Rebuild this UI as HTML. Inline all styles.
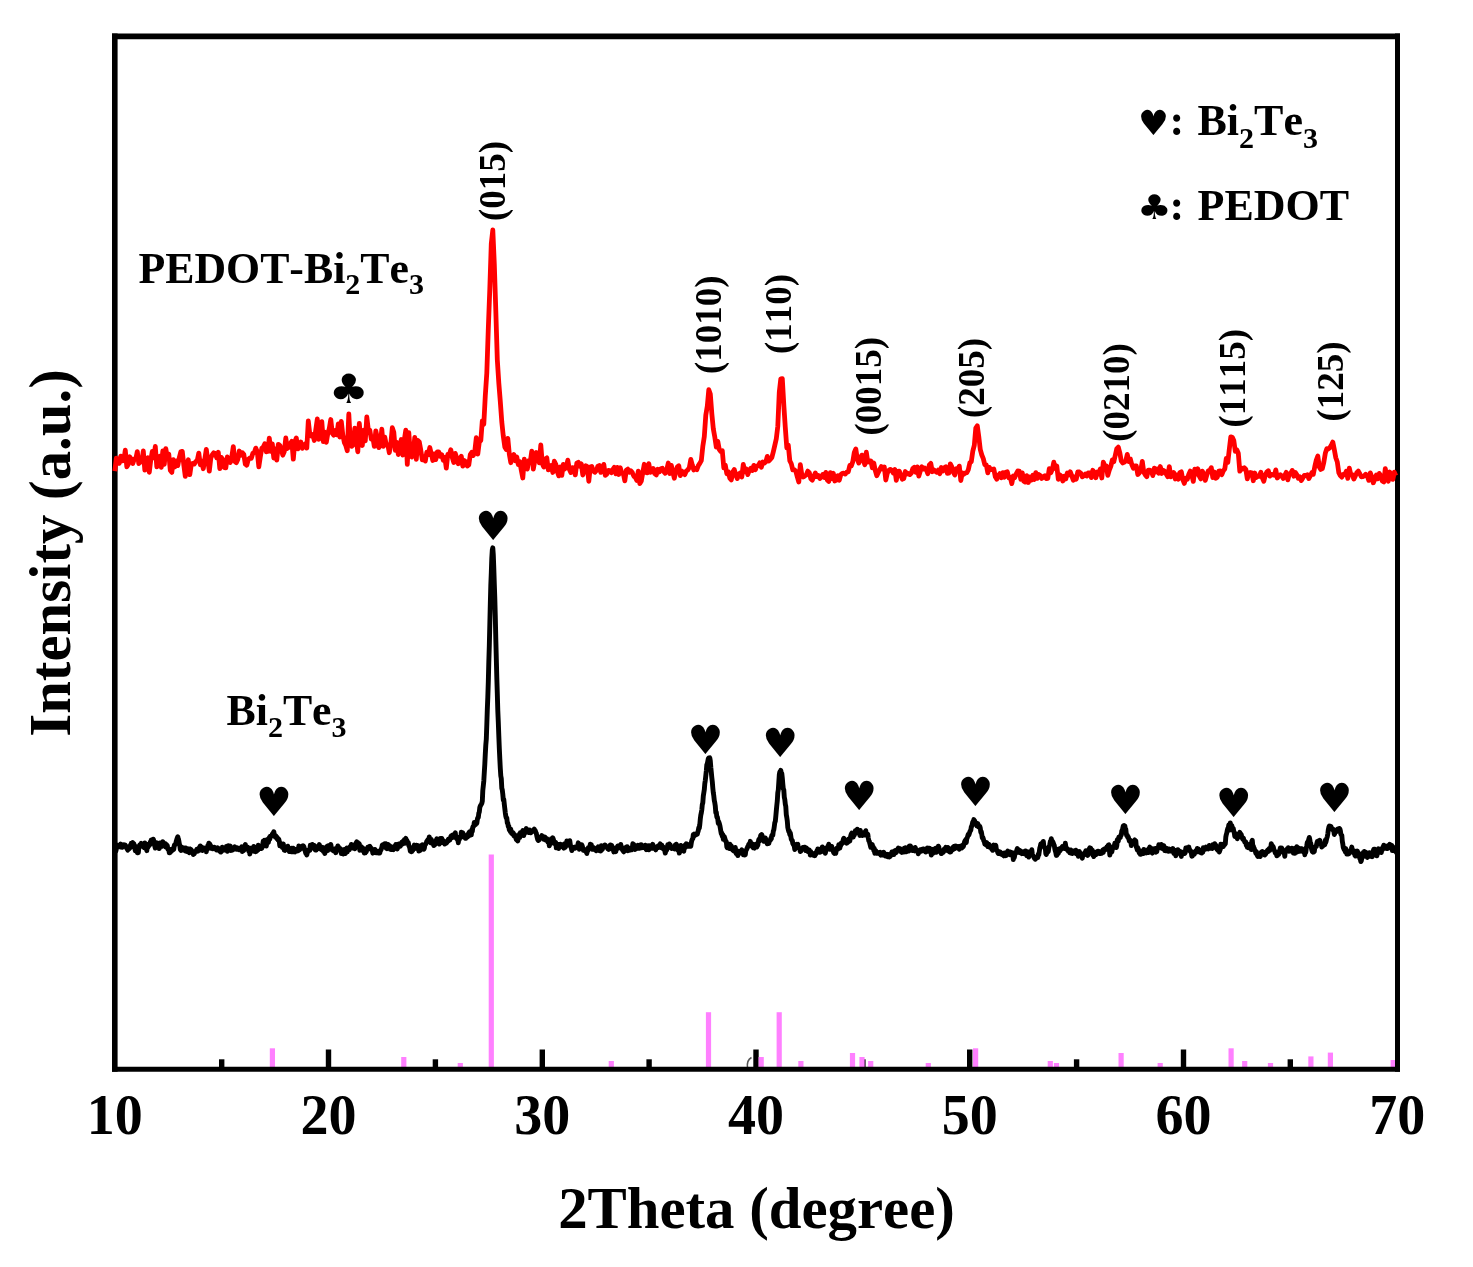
<!DOCTYPE html>
<html><head><meta charset="utf-8"><title>XRD patterns</title>
<style>
html,body{margin:0;padding:0;background:#fff;}
svg{display:block;}
text{font-family:"Liberation Serif",serif;font-weight:bold;fill:#000;font-kerning:none;}
.sym{font-family:"DejaVu Sans",sans-serif;font-weight:normal;}
</style></head><body>
<svg width="1473" height="1267" viewBox="0 0 1473 1267">
<rect x="0" y="0" width="1473" height="1267" fill="#fff"/>

<g stroke="#000" stroke-width="5.4" fill="none">
<line x1="221.7" y1="1059.3" x2="221.7" y2="1068"/>
<line x1="328.5" y1="1049.5" x2="328.5" y2="1068"/>
<line x1="435.4" y1="1059.3" x2="435.4" y2="1068"/>
<line x1="542.3" y1="1049.5" x2="542.3" y2="1068"/>
<line x1="649.1" y1="1059.3" x2="649.1" y2="1068"/>
<line x1="756.0" y1="1049.5" x2="756.0" y2="1068"/>
<line x1="862.9" y1="1059.3" x2="862.9" y2="1068"/>
<line x1="969.7" y1="1049.5" x2="969.7" y2="1068"/>
<line x1="1076.6" y1="1059.3" x2="1076.6" y2="1068"/>
<line x1="1183.5" y1="1049.5" x2="1183.5" y2="1068"/>
<line x1="1290.3" y1="1059.3" x2="1290.3" y2="1068"/>
</g>
<g stroke="#ff80ff" stroke-width="5.2" fill="none">
<line x1="272.4" y1="1048.3" x2="272.4" y2="1068"/>
<line x1="403.8" y1="1057" x2="403.8" y2="1068"/>
<line x1="460.3" y1="1063" x2="460.3" y2="1068"/>
<line x1="491.3" y1="854.6" x2="491.3" y2="1068"/>
<line x1="611.3" y1="1061" x2="611.3" y2="1068"/>
<line x1="708.5" y1="1012.2" x2="708.5" y2="1068"/>
<line x1="761.2" y1="1057" x2="761.2" y2="1068"/>
<line x1="779.2" y1="1012.2" x2="779.2" y2="1068"/>
<line x1="800.9" y1="1061" x2="800.9" y2="1068"/>
<line x1="852.5" y1="1053" x2="852.5" y2="1068"/>
<line x1="862" y1="1057" x2="862" y2="1068"/>
<line x1="870.7" y1="1061" x2="870.7" y2="1068"/>
<line x1="928.3" y1="1063" x2="928.3" y2="1068"/>
<line x1="975.6" y1="1048.3" x2="975.6" y2="1068"/>
<line x1="1050.3" y1="1061" x2="1050.3" y2="1068"/>
<line x1="1056.5" y1="1063" x2="1056.5" y2="1068"/>
<line x1="1121.1" y1="1053" x2="1121.1" y2="1068"/>
<line x1="1160.2" y1="1063" x2="1160.2" y2="1068"/>
<line x1="1231.1" y1="1048.3" x2="1231.1" y2="1068"/>
<line x1="1244.7" y1="1061" x2="1244.7" y2="1068"/>
<line x1="1270.5" y1="1063" x2="1270.5" y2="1068"/>
<line x1="1310.9" y1="1056.4" x2="1310.9" y2="1068"/>
<line x1="1330.4" y1="1052.6" x2="1330.4" y2="1068"/>
<line x1="1393.2" y1="1060" x2="1393.2" y2="1068"/>
</g>
<path d="M751.5,1057.5 Q746.5,1060 747.5,1068" fill="none" stroke="#555" stroke-width="1.6"/>
<g stroke="#000" fill="none" stroke-linecap="butt">
<line x1="114.8" y1="33.6" x2="114.8" y2="1071.7" stroke-width="5.6"/>
<line x1="112" y1="36.4" x2="1400" y2="36.4" stroke-width="5.6"/>
<line x1="1397.5" y1="33.6" x2="1397.5" y2="1071.7" stroke-width="5"/>
<line x1="112" y1="1069.2" x2="1400" y2="1069.2" stroke-width="5"/>
</g>
<path d="M114.8,471.1 L116.3,458.2 L117.8,461.1 L119.3,463.3 L120.8,456.1 L122.3,460.8 L123.8,460.7 L125.3,450.1 L126.8,466.8 L128.3,464.2 L129.8,456.8 L131.3,459.5 L132.8,463.5 L134.3,458.9 L135.8,458.9 L137.3,451.6 L138.8,463.7 L140.3,461.0 L141.8,461.9 L143.3,451.0 L144.8,470.1 L146.3,461.0 L147.8,457.7 L149.3,472.3 L150.8,459.8 L152.3,451.4 L153.8,457.8 L155.3,446.5 L156.8,466.9 L158.3,458.1 L159.8,456.2 L161.3,467.4 L162.8,450.9 L164.3,464.3 L165.8,448.6 L167.3,457.3 L168.8,454.1 L170.3,470.4 L171.8,472.4 L173.3,459.7 L174.8,467.0 L176.3,460.9 L177.8,465.6 L179.3,457.6 L180.8,451.9 L182.3,451.4 L183.8,464.9 L185.3,476.4 L186.8,464.4 L188.3,459.7 L189.8,474.7 L191.3,464.3 L192.8,463.3 L194.3,464.0 L195.8,461.5 L197.3,460.2 L198.8,453.1 L200.3,464.8 L201.8,461.0 L203.3,468.7 L204.8,459.0 L206.3,449.3 L207.8,460.3 L209.3,471.1 L210.8,458.1 L212.3,454.8 L213.8,452.8 L215.3,453.5 L216.8,457.9 L218.3,452.3 L219.8,468.6 L221.3,457.4 L222.8,459.6 L224.3,467.6 L225.8,467.8 L227.3,457.0 L228.8,460.2 L230.3,462.5 L231.8,456.6 L233.3,446.6 L234.8,461.4 L236.3,462.7 L237.8,459.5 L239.3,451.0 L240.8,455.3 L242.3,452.7 L243.8,454.3 L245.3,464.1 L246.8,465.2 L248.3,459.3 L249.8,458.0 L251.3,458.4 L252.8,453.4 L254.3,452.5 L255.8,448.1 L257.3,451.7 L258.8,466.8 L260.3,457.0 L261.8,448.3 L263.3,446.9 L264.8,443.7 L266.3,451.8 L267.8,451.4 L269.3,438.1 L270.8,451.4 L272.3,443.8 L273.8,458.0 L275.3,448.9 L276.8,460.1 L278.3,444.3 L279.8,445.4 L281.3,449.6 L282.8,455.2 L284.3,451.5 L285.8,438.0 L287.3,448.5 L288.8,447.2 L290.3,443.6 L291.8,441.3 L293.3,459.2 L294.8,442.1 L296.3,437.9 L297.8,448.9 L299.3,444.3 L300.8,442.1 L302.3,448.3 L303.8,445.4 L305.3,443.8 L306.8,448.1 L308.3,421.0 L309.8,434.0 L311.3,435.9 L312.8,434.5 L314.3,440.5 L315.8,429.6 L317.3,419.0 L318.8,439.3 L320.3,427.0 L321.8,421.6 L323.3,441.5 L324.8,432.2 L326.3,442.4 L327.8,433.6 L329.3,428.4 L330.8,419.5 L332.3,433.3 L333.8,435.2 L335.3,430.4 L336.8,434.8 L338.3,423.9 L339.8,437.0 L341.3,421.4 L342.8,434.9 L344.3,442.4 L345.8,445.6 L347.3,450.7 L348.8,414.0 L350.3,442.5 L351.8,446.3 L353.3,444.4 L354.8,428.1 L356.3,439.5 L357.8,451.8 L359.3,423.3 L360.8,440.1 L362.3,445.5 L363.8,430.1 L365.3,440.9 L366.8,417.0 L368.3,429.8 L369.8,430.1 L371.3,439.1 L372.8,437.1 L374.3,446.4 L375.8,430.8 L377.3,438.0 L378.8,447.7 L380.3,444.7 L381.8,429.2 L383.3,446.4 L384.8,437.2 L386.3,444.9 L387.8,444.6 L389.3,452.7 L390.8,443.9 L392.3,427.7 L393.8,432.2 L395.3,450.3 L396.8,442.3 L398.3,454.5 L399.8,447.6 L401.3,439.5 L402.8,455.1 L404.3,439.9 L405.8,430.1 L407.3,464.4 L408.8,432.6 L410.3,453.9 L411.8,457.0 L413.3,451.2 L414.8,437.3 L416.3,459.3 L417.8,440.5 L419.3,442.0 L420.8,450.3 L422.3,459.8 L423.8,456.6 L425.3,461.1 L426.8,452.2 L428.3,454.7 L429.8,447.5 L431.3,453.7 L432.8,460.5 L434.3,453.9 L435.8,459.6 L437.3,452.0 L438.8,451.9 L440.3,456.4 L441.8,454.8 L443.3,460.3 L444.8,457.4 L446.3,468.2 L447.8,454.5 L449.3,454.9 L450.8,449.8 L452.3,457.6 L453.8,462.5 L455.3,453.4 L456.8,458.4 L458.3,463.8 L459.8,458.6 L461.3,456.3 L462.8,466.2 L464.3,460.5 L465.8,461.8 L467.3,466.0 L468.8,464.9 L470.3,454.5 L471.8,452.2 L473.3,455.6 L474.8,451.1 L476.3,437.7 L477.8,454.0 L479.3,442.0 L480.8,440.6 L482.3,420.9 L483.8,424.2 L485.3,395.6 L486.8,373.1 L488.3,328.8 L489.8,289.1 L491.3,243.4 L492.8,229.9 L494.3,263.8 L495.8,310.5 L497.3,359.6 L498.8,382.8 L500.3,401.5 L501.8,422.1 L503.3,436.2 L504.8,447.0 L506.3,449.6 L507.8,438.3 L509.3,454.0 L510.8,462.7 L512.3,456.4 L513.8,454.6 L515.3,460.7 L516.8,457.0 L518.3,464.6 L519.8,461.6 L521.3,470.4 L522.8,478.0 L524.3,459.1 L525.8,466.9 L527.3,469.0 L528.8,460.6 L530.3,461.5 L531.8,451.2 L533.3,469.0 L534.8,460.8 L536.3,452.5 L537.8,454.4 L539.3,462.8 L540.8,445.0 L542.3,463.8 L543.8,467.0 L545.3,458.9 L546.8,457.9 L548.3,469.9 L549.8,468.0 L551.3,465.5 L552.8,472.5 L554.3,461.2 L555.8,464.2 L557.3,471.7 L558.8,475.9 L560.3,467.0 L561.8,475.4 L563.3,464.3 L564.8,469.0 L566.3,466.8 L567.8,460.2 L569.3,469.2 L570.8,472.5 L572.3,467.6 L573.8,468.1 L575.3,474.9 L576.8,463.1 L578.3,462.3 L579.8,466.2 L581.3,463.9 L582.8,475.0 L584.3,470.6 L585.8,465.7 L587.3,466.8 L588.8,481.3 L590.3,467.1 L591.8,466.5 L593.3,470.9 L594.8,472.3 L596.3,470.7 L597.8,466.4 L599.3,465.5 L600.8,472.4 L602.3,470.2 L603.8,464.4 L605.3,475.3 L606.8,474.1 L608.3,470.4 L609.8,470.6 L611.3,472.7 L612.8,469.5 L614.3,467.2 L615.8,473.8 L617.3,467.4 L618.8,474.5 L620.3,467.8 L621.8,473.2 L623.3,473.3 L624.8,480.8 L626.3,470.2 L627.8,469.1 L629.3,472.3 L630.8,470.7 L632.3,472.6 L633.8,476.2 L635.3,477.3 L636.8,480.4 L638.3,471.1 L639.8,483.7 L641.3,481.0 L642.8,472.5 L644.3,464.3 L645.8,472.5 L647.3,472.8 L648.8,463.6 L650.3,472.4 L651.8,471.1 L653.3,468.6 L654.8,473.7 L656.3,474.9 L657.8,469.2 L659.3,472.0 L660.8,468.7 L662.3,468.2 L663.8,471.6 L665.3,473.3 L666.8,469.2 L668.3,463.0 L669.8,473.6 L671.3,465.4 L672.8,471.9 L674.3,478.2 L675.8,471.4 L677.3,466.9 L678.8,465.8 L680.3,475.7 L681.8,471.1 L683.3,473.1 L684.8,474.6 L686.3,471.0 L687.8,470.0 L689.3,467.6 L690.8,459.4 L692.3,465.0 L693.8,470.0 L695.3,468.8 L696.8,469.7 L698.3,465.6 L699.8,463.4 L701.3,460.7 L702.8,446.4 L704.3,436.6 L705.8,415.2 L707.3,406.2 L708.8,389.7 L710.3,394.0 L711.8,413.4 L713.3,428.8 L714.8,437.1 L716.3,447.2 L717.8,441.4 L719.3,449.6 L720.8,451.6 L722.3,450.7 L723.8,467.9 L725.3,465.1 L726.8,473.7 L728.3,471.7 L729.8,478.2 L731.3,479.9 L732.8,472.1 L734.3,469.6 L735.8,475.0 L737.3,478.6 L738.8,474.0 L740.3,472.9 L741.8,476.9 L743.3,464.4 L744.8,471.9 L746.3,468.8 L747.8,474.6 L749.3,470.2 L750.8,468.3 L752.3,470.5 L753.8,465.4 L755.3,469.8 L756.8,466.0 L758.3,465.7 L759.8,462.8 L761.3,467.3 L762.8,462.0 L764.3,463.1 L765.8,461.9 L767.3,456.4 L768.8,461.0 L770.3,459.3 L771.8,457.7 L773.3,451.8 L774.8,445.4 L776.3,438.7 L777.8,426.2 L779.3,391.9 L780.8,378.8 L782.3,378.6 L783.8,404.9 L785.3,427.5 L786.8,447.9 L788.3,445.2 L789.8,460.7 L791.3,463.8 L792.8,469.9 L794.3,469.6 L795.8,471.1 L797.3,476.9 L798.8,482.0 L800.3,464.7 L801.8,474.5 L803.3,477.0 L804.8,476.0 L806.3,474.8 L807.8,471.1 L809.3,472.6 L810.8,478.8 L812.3,480.1 L813.8,476.4 L815.3,473.0 L816.8,476.6 L818.3,475.5 L819.8,478.5 L821.3,477.0 L822.8,474.4 L824.3,477.5 L825.8,472.4 L827.3,480.0 L828.8,481.4 L830.3,472.6 L831.8,478.6 L833.3,473.3 L834.8,481.0 L836.3,480.2 L837.8,475.8 L839.3,480.2 L840.8,474.6 L842.3,473.4 L843.8,473.2 L845.3,474.1 L846.8,472.1 L848.3,471.8 L849.8,465.5 L851.3,465.9 L852.8,461.6 L854.3,452.4 L855.8,448.9 L857.3,459.2 L858.8,463.0 L860.3,459.3 L861.8,455.1 L863.3,460.3 L864.8,464.7 L866.3,452.2 L867.8,462.1 L869.3,460.8 L870.8,460.8 L872.3,467.8 L873.8,463.0 L875.3,470.6 L876.8,475.7 L878.3,472.5 L879.8,469.4 L881.3,466.6 L882.8,468.9 L884.3,467.0 L885.8,480.0 L887.3,473.2 L888.8,470.3 L890.3,469.4 L891.8,470.3 L893.3,473.0 L894.8,469.4 L896.3,480.4 L897.8,471.3 L899.3,471.1 L900.8,475.2 L902.3,479.2 L903.8,478.5 L905.3,471.5 L906.8,474.0 L908.3,473.4 L909.8,474.6 L911.3,473.3 L912.8,468.6 L914.3,467.2 L915.8,472.2 L917.3,466.9 L918.8,476.2 L920.3,471.0 L921.8,466.7 L923.3,469.1 L924.8,468.1 L926.3,469.6 L927.8,473.7 L929.3,464.9 L930.8,463.4 L932.3,471.7 L933.8,469.8 L935.3,471.2 L936.8,472.3 L938.3,470.0 L939.8,473.7 L941.3,467.5 L942.8,471.1 L944.3,467.8 L945.8,466.8 L947.3,473.3 L948.8,473.1 L950.3,463.8 L951.8,466.9 L953.3,472.1 L954.8,475.0 L956.3,468.7 L957.8,470.6 L959.3,466.1 L960.8,480.6 L962.3,472.9 L963.8,474.2 L965.3,472.8 L966.8,472.8 L968.3,469.7 L969.8,462.9 L971.3,461.6 L972.8,451.2 L974.3,445.4 L975.8,428.0 L977.3,425.7 L978.8,436.7 L980.3,449.7 L981.8,455.0 L983.3,458.6 L984.8,464.8 L986.3,464.9 L987.8,472.9 L989.3,467.4 L990.8,469.6 L992.3,469.4 L993.8,469.0 L995.3,476.8 L996.8,479.2 L998.3,475.6 L999.8,473.6 L1001.3,477.8 L1002.8,472.6 L1004.3,477.2 L1005.8,472.2 L1007.3,471.7 L1008.8,477.8 L1010.3,477.4 L1011.8,483.6 L1013.3,476.0 L1014.8,477.5 L1016.3,473.6 L1017.8,471.0 L1019.3,471.1 L1020.8,479.2 L1022.3,472.9 L1023.8,481.2 L1025.3,482.1 L1026.8,475.6 L1028.3,482.5 L1029.8,477.0 L1031.3,480.2 L1032.8,475.2 L1034.3,479.6 L1035.8,472.6 L1037.3,478.4 L1038.8,474.5 L1040.3,475.7 L1041.8,478.5 L1043.3,476.8 L1044.8,475.8 L1046.3,478.6 L1047.8,478.3 L1049.3,468.7 L1050.8,472.8 L1052.3,469.4 L1053.8,462.2 L1055.3,468.5 L1056.8,466.1 L1058.3,479.3 L1059.8,474.8 L1061.3,476.0 L1062.8,481.0 L1064.3,476.2 L1065.8,479.0 L1067.3,473.0 L1068.8,474.9 L1070.3,471.8 L1071.8,475.9 L1073.3,480.2 L1074.8,476.9 L1076.3,479.1 L1077.8,471.8 L1079.3,472.0 L1080.8,473.2 L1082.3,476.8 L1083.8,475.7 L1085.3,474.0 L1086.8,476.0 L1088.3,472.9 L1089.8,473.0 L1091.3,477.6 L1092.8,470.3 L1094.3,472.8 L1095.8,477.8 L1097.3,472.0 L1098.8,474.0 L1100.3,468.9 L1101.8,478.0 L1103.3,462.2 L1104.8,465.9 L1106.3,466.0 L1107.8,475.4 L1109.3,470.1 L1110.8,466.4 L1112.3,460.0 L1113.8,461.7 L1115.3,455.2 L1116.8,448.6 L1118.3,447.1 L1119.8,452.8 L1121.3,461.1 L1122.8,463.0 L1124.3,462.2 L1125.8,460.8 L1127.3,454.4 L1128.8,461.5 L1130.3,458.9 L1131.8,464.6 L1133.3,468.2 L1134.8,465.8 L1136.3,466.0 L1137.8,474.5 L1139.3,473.0 L1140.8,469.9 L1142.3,461.4 L1143.8,472.3 L1145.3,474.9 L1146.8,476.7 L1148.3,470.1 L1149.8,470.2 L1151.3,470.9 L1152.8,475.6 L1154.3,468.1 L1155.8,472.0 L1157.3,468.9 L1158.8,473.3 L1160.3,466.5 L1161.8,473.5 L1163.3,470.3 L1164.8,471.2 L1166.3,474.2 L1167.8,476.7 L1169.3,466.6 L1170.8,476.8 L1172.3,475.4 L1173.8,472.6 L1175.3,479.0 L1176.8,474.9 L1178.3,479.2 L1179.8,472.6 L1181.3,471.8 L1182.8,479.7 L1184.3,483.4 L1185.8,478.1 L1187.3,479.3 L1188.8,474.3 L1190.3,471.1 L1191.8,475.1 L1193.3,481.4 L1194.8,469.1 L1196.3,474.1 L1197.8,468.8 L1199.3,476.2 L1200.8,478.9 L1202.3,471.2 L1203.8,474.1 L1205.3,480.4 L1206.8,475.1 L1208.3,470.8 L1209.8,470.4 L1211.3,467.7 L1212.8,477.7 L1214.3,472.0 L1215.8,478.2 L1217.3,477.2 L1218.8,471.1 L1220.3,470.9 L1221.8,474.7 L1223.3,470.8 L1224.8,468.9 L1226.3,458.3 L1227.8,462.4 L1229.3,449.3 L1230.8,436.9 L1232.3,437.3 L1233.8,440.5 L1235.3,451.4 L1236.8,449.7 L1238.3,453.1 L1239.8,471.2 L1241.3,467.9 L1242.8,469.0 L1244.3,467.8 L1245.8,469.2 L1247.3,478.9 L1248.8,473.1 L1250.3,472.5 L1251.8,472.9 L1253.3,480.7 L1254.8,473.0 L1256.3,477.5 L1257.8,476.3 L1259.3,476.3 L1260.8,472.2 L1262.3,477.8 L1263.8,481.3 L1265.3,475.2 L1266.8,472.1 L1268.3,470.7 L1269.8,476.1 L1271.3,474.4 L1272.8,474.9 L1274.3,475.3 L1275.8,469.9 L1277.3,478.0 L1278.8,476.0 L1280.3,474.8 L1281.8,475.9 L1283.3,478.4 L1284.8,475.4 L1286.3,472.3 L1287.8,479.8 L1289.3,474.1 L1290.8,473.2 L1292.3,470.4 L1293.8,476.2 L1295.3,472.5 L1296.8,474.6 L1298.3,478.3 L1299.8,476.9 L1301.3,480.6 L1302.8,478.1 L1304.3,475.4 L1305.8,475.6 L1307.3,474.7 L1308.8,478.6 L1310.3,475.8 L1311.8,472.7 L1313.3,474.2 L1314.8,466.6 L1316.3,460.1 L1317.8,456.1 L1319.3,466.9 L1320.8,469.4 L1322.3,468.7 L1323.8,462.4 L1325.3,453.3 L1326.8,448.7 L1328.3,449.0 L1329.8,447.8 L1331.3,445.2 L1332.8,442.1 L1334.3,449.5 L1335.8,457.8 L1337.3,462.0 L1338.8,472.7 L1340.3,475.6 L1341.8,477.1 L1343.3,474.3 L1344.8,474.5 L1346.3,471.3 L1347.8,478.4 L1349.3,468.1 L1350.8,474.5 L1352.3,474.7 L1353.8,479.1 L1355.3,476.1 L1356.8,472.7 L1358.3,471.1 L1359.8,473.7 L1361.3,476.8 L1362.8,476.7 L1364.3,475.9 L1365.8,474.2 L1367.3,476.0 L1368.8,480.4 L1370.3,472.9 L1371.8,477.0 L1373.3,482.8 L1374.8,479.0 L1376.3,475.1 L1377.8,478.8 L1379.3,473.4 L1380.8,475.8 L1382.3,481.0 L1383.8,481.9 L1385.3,468.6 L1386.8,477.0 L1388.3,481.2 L1389.8,472.0 L1391.3,474.9 L1392.8,479.4 L1394.3,472.2 L1395.8,475.6" fill="none" stroke="#ff0000" stroke-width="4.8" stroke-linejoin="round" stroke-linecap="butt"/>
<path d="M114.8,851.6 L115.3,851.4 L115.8,851.2 L116.3,849.1 L116.8,845.8 L117.3,845.3 L117.8,846.4 L118.3,845.3 L118.8,845.9 L119.3,845.4 L119.8,846.0 L120.3,847.0 L120.8,844.1 L121.3,845.8 L121.8,845.3 L122.3,847.3 L122.8,845.0 L123.3,845.9 L123.8,844.7 L124.3,845.4 L124.8,846.0 L125.3,845.2 L125.8,846.1 L126.3,846.9 L126.8,848.7 L127.3,848.8 L127.8,850.1 L128.3,849.0 L128.8,847.8 L129.3,848.6 L129.8,848.2 L130.3,845.3 L130.8,847.3 L131.3,843.3 L131.8,844.5 L132.3,844.5 L132.8,842.6 L133.3,845.3 L133.8,843.5 L134.3,846.1 L134.8,848.3 L135.3,850.7 L135.8,849.4 L136.3,846.6 L136.8,849.5 L137.3,852.7 L137.8,850.8 L138.3,852.7 L138.8,848.2 L139.3,847.2 L139.8,844.7 L140.3,844.5 L140.8,846.1 L141.3,843.3 L141.8,845.9 L142.3,845.9 L142.8,846.6 L143.3,845.2 L143.8,845.5 L144.3,847.8 L144.8,843.0 L145.3,846.2 L145.8,847.7 L146.3,847.6 L146.8,850.7 L147.3,844.5 L147.8,847.5 L148.3,845.7 L148.8,846.0 L149.3,845.4 L149.8,844.8 L150.3,841.9 L150.8,843.6 L151.3,839.9 L151.8,843.1 L152.3,841.4 L152.8,839.3 L153.3,839.2 L153.8,841.0 L154.3,843.9 L154.8,846.1 L155.3,848.1 L155.8,847.4 L156.3,844.3 L156.8,842.8 L157.3,845.2 L157.8,843.5 L158.3,845.1 L158.8,844.4 L159.3,848.6 L159.8,842.9 L160.3,844.9 L160.8,846.4 L161.3,843.3 L161.8,842.7 L162.3,846.3 L162.8,841.8 L163.3,842.7 L163.8,843.7 L164.3,845.6 L164.8,845.3 L165.3,843.7 L165.8,847.1 L166.3,844.4 L166.8,845.2 L167.3,845.5 L167.8,849.2 L168.3,849.2 L168.8,849.4 L169.3,852.9 L169.8,852.6 L170.3,852.3 L170.8,849.5 L171.3,850.2 L171.8,850.7 L172.3,849.6 L172.8,848.7 L173.3,848.8 L173.8,849.3 L174.3,845.2 L174.8,845.3 L175.3,844.2 L175.8,843.5 L176.3,841.1 L176.8,839.3 L177.3,838.0 L177.8,836.7 L178.3,839.0 L178.8,840.7 L179.3,843.7 L179.8,845.6 L180.3,849.5 L180.8,850.3 L181.3,848.9 L181.8,848.1 L182.3,847.4 L182.8,850.1 L183.3,848.9 L183.8,848.6 L184.3,848.2 L184.8,849.7 L185.3,850.9 L185.8,847.9 L186.3,850.9 L186.8,849.7 L187.3,851.5 L187.8,850.1 L188.3,848.9 L188.8,851.3 L189.3,852.7 L189.8,848.9 L190.3,849.9 L190.8,849.3 L191.3,851.3 L191.8,850.6 L192.3,851.3 L192.8,853.0 L193.3,854.5 L193.8,852.7 L194.3,853.7 L194.8,852.1 L195.3,852.1 L195.8,851.0 L196.3,850.8 L196.8,849.3 L197.3,849.4 L197.8,851.2 L198.3,850.3 L198.8,850.1 L199.3,847.6 L199.8,850.2 L200.3,845.9 L200.8,848.0 L201.3,849.0 L201.8,847.1 L202.3,850.5 L202.8,850.1 L203.3,848.5 L203.8,849.9 L204.3,848.1 L204.8,849.2 L205.3,850.3 L205.8,848.9 L206.3,851.9 L206.8,849.1 L207.3,849.2 L207.8,845.5 L208.3,845.3 L208.8,843.2 L209.3,843.9 L209.8,843.9 L210.3,845.5 L210.8,848.2 L211.3,846.4 L211.8,846.9 L212.3,847.7 L212.8,848.8 L213.3,847.9 L213.8,847.5 L214.3,847.2 L214.8,848.4 L215.3,849.1 L215.8,848.1 L216.3,848.7 L216.8,850.0 L217.3,848.8 L217.8,847.9 L218.3,849.5 L218.8,849.7 L219.3,850.3 L219.8,851.2 L220.3,850.7 L220.8,852.1 L221.3,851.7 L221.8,850.9 L222.3,847.3 L222.8,848.4 L223.3,848.5 L223.8,848.5 L224.3,848.4 L224.8,850.1 L225.3,848.2 L225.8,848.7 L226.3,846.6 L226.8,849.6 L227.3,851.3 L227.8,850.4 L228.3,845.8 L228.8,848.4 L229.3,849.4 L229.8,847.7 L230.3,846.0 L230.8,850.6 L231.3,848.3 L231.8,847.9 L232.3,850.2 L232.8,848.2 L233.3,848.2 L233.8,849.3 L234.3,847.6 L234.8,846.8 L235.3,848.9 L235.8,847.7 L236.3,849.2 L236.8,849.2 L237.3,847.8 L237.8,848.9 L238.3,849.0 L238.8,849.8 L239.3,849.7 L239.8,849.6 L240.3,849.4 L240.8,847.7 L241.3,850.1 L241.8,846.8 L242.3,851.5 L242.8,848.2 L243.3,849.5 L243.8,850.3 L244.3,847.3 L244.8,845.3 L245.3,844.6 L245.8,846.7 L246.3,846.8 L246.8,847.8 L247.3,847.6 L247.8,847.4 L248.3,849.6 L248.8,851.3 L249.3,848.4 L249.8,854.1 L250.3,848.3 L250.8,850.1 L251.3,850.6 L251.8,849.0 L252.3,848.0 L252.8,848.3 L253.3,850.4 L253.8,846.4 L254.3,851.4 L254.8,851.1 L255.3,850.8 L255.8,851.7 L256.3,851.2 L256.8,850.9 L257.3,848.7 L257.8,850.2 L258.3,845.3 L258.8,846.7 L259.3,846.3 L259.8,848.1 L260.3,847.3 L260.8,848.4 L261.3,846.4 L261.8,848.4 L262.3,846.7 L262.8,843.9 L263.3,841.0 L263.8,841.0 L264.3,840.4 L264.8,844.1 L265.3,843.8 L265.8,841.5 L266.3,846.0 L266.8,843.3 L267.3,839.5 L267.8,842.7 L268.3,842.4 L268.8,840.0 L269.3,837.6 L269.8,839.1 L270.3,836.1 L270.8,836.2 L271.3,836.4 L271.8,835.7 L272.3,834.3 L272.8,833.4 L273.3,835.7 L273.8,831.7 L274.3,835.2 L274.8,835.8 L275.3,837.0 L275.8,835.7 L276.3,836.5 L276.8,838.5 L277.3,837.5 L277.8,839.6 L278.3,840.3 L278.8,839.3 L279.3,841.4 L279.8,845.8 L280.3,845.4 L280.8,843.4 L281.3,845.9 L281.8,846.0 L282.3,847.5 L282.8,847.3 L283.3,843.9 L283.8,848.0 L284.3,850.2 L284.8,850.5 L285.3,847.7 L285.8,847.2 L286.3,849.0 L286.8,847.3 L287.3,847.8 L287.8,846.2 L288.3,849.1 L288.8,850.3 L289.3,851.4 L289.8,849.5 L290.3,848.9 L290.8,849.4 L291.3,851.7 L291.8,848.1 L292.3,850.8 L292.8,851.8 L293.3,848.1 L293.8,849.1 L294.3,851.6 L294.8,851.9 L295.3,849.5 L295.8,850.0 L296.3,850.6 L296.8,850.2 L297.3,850.8 L297.8,850.1 L298.3,850.6 L298.8,845.9 L299.3,849.9 L299.8,849.6 L300.3,847.9 L300.8,848.0 L301.3,848.3 L301.8,847.0 L302.3,846.1 L302.8,846.8 L303.3,845.9 L303.8,846.5 L304.3,848.3 L304.8,849.4 L305.3,851.6 L305.8,853.3 L306.3,853.5 L306.8,855.0 L307.3,852.8 L307.8,851.5 L308.3,850.8 L308.8,849.7 L309.3,849.5 L309.8,850.4 L310.3,845.2 L310.8,846.9 L311.3,845.9 L311.8,846.7 L312.3,844.5 L312.8,845.7 L313.3,845.3 L313.8,847.9 L314.3,845.3 L314.8,849.4 L315.3,850.0 L315.8,847.1 L316.3,850.0 L316.8,846.9 L317.3,848.9 L317.8,846.4 L318.3,846.7 L318.8,846.4 L319.3,844.6 L319.8,848.6 L320.3,848.6 L320.8,846.6 L321.3,849.7 L321.8,849.2 L322.3,847.3 L322.8,847.5 L323.3,851.4 L323.8,849.7 L324.3,851.8 L324.8,853.4 L325.3,851.8 L325.8,849.6 L326.3,850.8 L326.8,846.4 L327.3,846.2 L327.8,850.6 L328.3,845.7 L328.8,847.3 L329.3,845.7 L329.8,847.1 L330.3,847.9 L330.8,844.5 L331.3,847.4 L331.8,849.4 L332.3,850.2 L332.8,850.2 L333.3,849.0 L333.8,851.0 L334.3,850.0 L334.8,849.4 L335.3,850.1 L335.8,852.7 L336.3,848.2 L336.8,850.1 L337.3,848.4 L337.8,845.9 L338.3,846.6 L338.8,848.2 L339.3,848.8 L339.8,850.2 L340.3,848.6 L340.8,849.4 L341.3,853.5 L341.8,852.8 L342.3,850.7 L342.8,851.1 L343.3,854.0 L343.8,851.3 L344.3,849.6 L344.8,852.2 L345.3,853.5 L345.8,852.6 L346.3,849.1 L346.8,848.0 L347.3,851.8 L347.8,849.0 L348.3,849.3 L348.8,847.9 L349.3,849.9 L349.8,847.3 L350.3,846.4 L350.8,846.6 L351.3,844.5 L351.8,847.2 L352.3,847.8 L352.8,845.0 L353.3,846.1 L353.8,846.7 L354.3,847.4 L354.8,848.7 L355.3,847.3 L355.8,845.0 L356.3,842.6 L356.8,841.8 L357.3,844.4 L357.8,842.6 L358.3,844.2 L358.8,844.0 L359.3,843.8 L359.8,850.2 L360.3,846.8 L360.8,847.6 L361.3,846.6 L361.8,850.3 L362.3,847.8 L362.8,848.0 L363.3,848.9 L363.8,850.1 L364.3,853.0 L364.8,849.3 L365.3,852.9 L365.8,851.4 L366.3,851.7 L366.8,849.9 L367.3,849.7 L367.8,847.2 L368.3,848.1 L368.8,848.8 L369.3,846.4 L369.8,846.3 L370.3,847.5 L370.8,847.8 L371.3,848.4 L371.8,850.0 L372.3,849.9 L372.8,853.2 L373.3,851.0 L373.8,850.6 L374.3,852.5 L374.8,849.4 L375.3,850.2 L375.8,851.6 L376.3,852.8 L376.8,851.1 L377.3,851.4 L377.8,851.9 L378.3,852.9 L378.8,851.2 L379.3,851.8 L379.8,853.0 L380.3,850.6 L380.8,850.2 L381.3,849.0 L381.8,847.4 L382.3,844.9 L382.8,844.7 L383.3,844.9 L383.8,845.3 L384.3,844.7 L384.8,843.8 L385.3,845.5 L385.8,843.7 L386.3,848.3 L386.8,848.7 L387.3,844.7 L387.8,845.2 L388.3,844.7 L388.8,845.9 L389.3,845.5 L389.8,845.7 L390.3,849.4 L390.8,847.5 L391.3,849.6 L391.8,848.2 L392.3,847.9 L392.8,849.4 L393.3,849.6 L393.8,846.8 L394.3,846.3 L394.8,847.7 L395.3,846.7 L395.8,844.6 L396.3,846.6 L396.8,844.6 L397.3,849.0 L397.8,846.5 L398.3,846.2 L398.8,844.0 L399.3,845.1 L399.8,846.2 L400.3,846.3 L400.8,845.2 L401.3,844.5 L401.8,842.3 L402.3,844.1 L402.8,842.8 L403.3,840.9 L403.8,842.0 L404.3,839.7 L404.8,843.4 L405.3,839.1 L405.8,838.4 L406.3,840.1 L406.8,840.1 L407.3,841.9 L407.8,843.4 L408.3,842.6 L408.8,845.7 L409.3,846.3 L409.8,848.2 L410.3,851.2 L410.8,850.7 L411.3,851.7 L411.8,851.5 L412.3,848.5 L412.8,850.2 L413.3,849.0 L413.8,847.7 L414.3,845.1 L414.8,846.2 L415.3,848.4 L415.8,848.1 L416.3,845.2 L416.8,845.7 L417.3,845.9 L417.8,845.8 L418.3,845.7 L418.8,851.0 L419.3,847.8 L419.8,849.5 L420.3,850.2 L420.8,846.6 L421.3,845.8 L421.8,845.3 L422.3,844.8 L422.8,846.3 L423.3,846.4 L423.8,849.3 L424.3,848.4 L424.8,845.3 L425.3,844.2 L425.8,844.1 L426.3,843.0 L426.8,841.2 L427.3,842.0 L427.8,839.8 L428.3,840.1 L428.8,840.3 L429.3,836.9 L429.8,840.6 L430.3,841.5 L430.8,842.7 L431.3,839.4 L431.8,841.0 L432.3,843.4 L432.8,843.6 L433.3,842.4 L433.8,845.6 L434.3,844.0 L434.8,844.7 L435.3,841.4 L435.8,842.7 L436.3,840.1 L436.8,838.7 L437.3,841.6 L437.8,843.2 L438.3,840.8 L438.8,843.4 L439.3,843.9 L439.8,841.5 L440.3,838.6 L440.8,840.4 L441.3,840.6 L441.8,838.4 L442.3,842.5 L442.8,840.3 L443.3,840.8 L443.8,843.1 L444.3,842.7 L444.8,844.0 L445.3,842.2 L445.8,843.0 L446.3,843.0 L446.8,842.6 L447.3,841.7 L447.8,840.6 L448.3,839.3 L448.8,840.6 L449.3,838.8 L449.8,840.0 L450.3,838.4 L450.8,836.6 L451.3,835.8 L451.8,836.8 L452.3,837.7 L452.8,835.1 L453.3,836.7 L453.8,836.3 L454.3,835.7 L454.8,834.1 L455.3,832.8 L455.8,837.5 L456.3,838.4 L456.8,838.2 L457.3,839.5 L457.8,838.2 L458.3,842.7 L458.8,838.0 L459.3,839.6 L459.8,836.9 L460.3,837.2 L460.8,837.5 L461.3,832.3 L461.8,833.5 L462.3,832.6 L462.8,832.9 L463.3,834.0 L463.8,835.8 L464.3,836.5 L464.8,837.2 L465.3,838.3 L465.8,838.4 L466.3,837.1 L466.8,835.5 L467.3,837.1 L467.8,834.6 L468.3,836.5 L468.8,833.0 L469.3,832.1 L469.8,835.4 L470.3,833.0 L470.8,832.0 L471.3,834.9 L471.8,829.7 L472.3,831.6 L472.8,826.9 L473.3,826.9 L473.8,825.9 L474.3,822.4 L474.8,825.0 L475.3,824.7 L475.8,824.2 L476.3,823.2 L476.8,823.3 L477.3,819.7 L477.8,817.7 L478.3,817.5 L478.8,813.3 L479.3,812.1 L479.8,807.6 L480.3,806.0 L480.8,805.1 L481.3,804.3 L481.8,803.4 L482.3,801.3 L482.8,790.4 L483.3,785.8 L483.8,780.9 L484.3,772.4 L484.8,764.3 L485.3,753.9 L485.8,745.0 L486.3,739.1 L486.8,725.0 L487.3,709.9 L487.8,697.3 L488.3,682.2 L488.8,662.3 L489.3,646.0 L489.8,625.1 L490.3,604.2 L490.8,585.5 L491.3,572.8 L491.8,558.2 L492.3,550.1 L492.8,547.8 L493.3,555.0 L493.8,568.3 L494.3,583.9 L494.8,598.1 L495.3,616.5 L495.8,639.0 L496.3,658.2 L496.8,677.4 L497.3,693.3 L497.8,710.6 L498.3,722.2 L498.8,735.7 L499.3,748.1 L499.8,758.7 L500.3,768.3 L500.8,775.9 L501.3,778.6 L501.8,788.3 L502.3,790.0 L502.8,794.3 L503.3,800.0 L503.8,799.4 L504.3,804.3 L504.8,808.5 L505.3,812.8 L505.8,816.2 L506.3,818.0 L506.8,817.9 L507.3,822.9 L507.8,823.1 L508.3,826.7 L508.8,826.1 L509.3,830.0 L509.8,828.7 L510.3,831.5 L510.8,829.2 L511.3,833.0 L511.8,832.4 L512.3,833.9 L512.8,832.5 L513.3,833.1 L513.8,835.6 L514.3,836.2 L514.8,834.9 L515.3,835.9 L515.8,837.8 L516.3,839.5 L516.8,840.0 L517.3,839.4 L517.8,841.0 L518.3,837.1 L518.8,837.9 L519.3,834.3 L519.8,837.6 L520.3,832.8 L520.8,833.7 L521.3,835.8 L521.8,833.3 L522.3,831.9 L522.8,830.6 L523.3,832.9 L523.8,835.5 L524.3,831.9 L524.8,833.3 L525.3,832.1 L525.8,830.3 L526.3,828.5 L526.8,829.6 L527.3,831.2 L527.8,830.5 L528.3,831.3 L528.8,832.4 L529.3,831.3 L529.8,830.1 L530.3,831.6 L530.8,832.8 L531.3,831.1 L531.8,831.2 L532.3,831.1 L532.8,831.2 L533.3,830.7 L533.8,830.7 L534.3,829.1 L534.8,831.2 L535.3,830.7 L535.8,832.4 L536.3,833.3 L536.8,835.9 L537.3,838.0 L537.8,839.7 L538.3,840.5 L538.8,840.0 L539.3,839.9 L539.8,837.3 L540.3,838.5 L540.8,837.4 L541.3,837.1 L541.8,835.5 L542.3,836.6 L542.8,836.6 L543.3,836.7 L543.8,839.3 L544.3,837.6 L544.8,837.0 L545.3,839.9 L545.8,839.8 L546.3,840.2 L546.8,838.5 L547.3,839.8 L547.8,842.1 L548.3,842.1 L548.8,840.2 L549.3,845.9 L549.8,844.1 L550.3,843.7 L550.8,841.0 L551.3,838.7 L551.8,839.7 L552.3,839.9 L552.8,837.8 L553.3,839.1 L553.8,841.1 L554.3,843.4 L554.8,843.2 L555.3,842.8 L555.8,842.6 L556.3,847.9 L556.8,846.2 L557.3,847.4 L557.8,846.8 L558.3,844.4 L558.8,848.5 L559.3,846.4 L559.8,847.2 L560.3,844.1 L560.8,844.5 L561.3,846.4 L561.8,844.6 L562.3,844.6 L562.8,844.7 L563.3,845.0 L563.8,848.2 L564.3,847.1 L564.8,843.8 L565.3,847.3 L565.8,846.2 L566.3,845.3 L566.8,841.0 L567.3,843.3 L567.8,844.9 L568.3,842.1 L568.8,842.3 L569.3,842.8 L569.8,840.7 L570.3,844.6 L570.8,846.8 L571.3,848.0 L571.8,850.5 L572.3,848.8 L572.8,848.8 L573.3,848.6 L573.8,848.0 L574.3,847.3 L574.8,847.5 L575.3,848.1 L575.8,847.1 L576.3,847.5 L576.8,847.0 L577.3,847.1 L577.8,845.0 L578.3,842.8 L578.8,845.0 L579.3,849.2 L579.8,846.9 L580.3,844.6 L580.8,844.7 L581.3,844.7 L581.8,844.7 L582.3,846.1 L582.8,848.0 L583.3,850.2 L583.8,849.4 L584.3,850.6 L584.8,850.7 L585.3,850.5 L585.8,851.6 L586.3,849.5 L586.8,853.5 L587.3,850.7 L587.8,850.9 L588.3,847.7 L588.8,847.9 L589.3,847.2 L589.8,847.4 L590.3,844.1 L590.8,846.9 L591.3,844.6 L591.8,848.3 L592.3,849.3 L592.8,847.5 L593.3,847.4 L593.8,848.3 L594.3,848.8 L594.8,849.3 L595.3,850.0 L595.8,849.6 L596.3,850.7 L596.8,848.7 L597.3,847.8 L597.8,847.9 L598.3,846.9 L598.8,848.0 L599.3,847.6 L599.8,850.9 L600.3,849.4 L600.8,851.0 L601.3,845.8 L601.8,848.5 L602.3,849.3 L602.8,848.1 L603.3,846.2 L603.8,846.1 L604.3,845.5 L604.8,845.0 L605.3,845.1 L605.8,846.1 L606.3,846.1 L606.8,847.4 L607.3,847.8 L607.8,848.7 L608.3,847.4 L608.8,849.4 L609.3,848.0 L609.8,848.0 L610.3,844.9 L610.8,845.7 L611.3,845.8 L611.8,845.6 L612.3,849.1 L612.8,849.3 L613.3,850.0 L613.8,851.9 L614.3,849.9 L614.8,849.9 L615.3,850.6 L615.8,851.6 L616.3,847.7 L616.8,849.2 L617.3,847.3 L617.8,845.9 L618.3,847.2 L618.8,847.8 L619.3,846.4 L619.8,846.8 L620.3,845.4 L620.8,844.5 L621.3,848.5 L621.8,847.2 L622.3,849.8 L622.8,849.8 L623.3,851.1 L623.8,851.8 L624.3,848.0 L624.8,849.0 L625.3,848.2 L625.8,850.0 L626.3,848.1 L626.8,846.6 L627.3,846.6 L627.8,850.8 L628.3,848.3 L628.8,849.8 L629.3,850.2 L629.8,848.8 L630.3,849.9 L630.8,848.3 L631.3,848.8 L631.8,849.8 L632.3,847.7 L632.8,843.8 L633.3,848.1 L633.8,844.4 L634.3,845.5 L634.8,849.5 L635.3,847.9 L635.8,847.2 L636.3,848.7 L636.8,846.0 L637.3,846.3 L637.8,845.2 L638.3,845.9 L638.8,846.3 L639.3,848.3 L639.8,846.9 L640.3,848.0 L640.8,844.6 L641.3,844.6 L641.8,847.8 L642.3,846.4 L642.8,846.3 L643.3,847.4 L643.8,846.5 L644.3,847.4 L644.8,847.2 L645.3,845.2 L645.8,848.6 L646.3,849.6 L646.8,848.6 L647.3,846.0 L647.8,845.8 L648.3,847.3 L648.8,849.8 L649.3,848.5 L649.8,845.7 L650.3,847.1 L650.8,848.2 L651.3,847.0 L651.8,845.8 L652.3,846.6 L652.8,844.3 L653.3,848.4 L653.8,847.7 L654.3,846.8 L654.8,847.9 L655.3,847.1 L655.8,849.9 L656.3,847.0 L656.8,847.9 L657.3,847.7 L657.8,846.3 L658.3,845.8 L658.8,847.5 L659.3,846.0 L659.8,844.9 L660.3,843.9 L660.8,846.4 L661.3,847.6 L661.8,845.2 L662.3,847.2 L662.8,848.5 L663.3,848.8 L663.8,847.3 L664.3,849.8 L664.8,850.9 L665.3,853.1 L665.8,849.9 L666.3,850.5 L666.8,849.8 L667.3,848.3 L667.8,844.6 L668.3,845.3 L668.8,846.4 L669.3,844.0 L669.8,845.4 L670.3,844.9 L670.8,847.2 L671.3,848.1 L671.8,848.5 L672.3,847.0 L672.8,847.4 L673.3,847.5 L673.8,847.8 L674.3,846.7 L674.8,849.0 L675.3,845.0 L675.8,846.3 L676.3,844.2 L676.8,845.1 L677.3,849.0 L677.8,849.7 L678.3,850.7 L678.8,848.7 L679.3,853.1 L679.8,851.7 L680.3,847.2 L680.8,845.4 L681.3,846.2 L681.8,847.4 L682.3,846.6 L682.8,848.9 L683.3,847.6 L683.8,851.2 L684.3,846.6 L684.8,845.3 L685.3,847.6 L685.8,844.7 L686.3,843.8 L686.8,843.9 L687.3,844.9 L687.8,844.6 L688.3,846.2 L688.8,846.0 L689.3,845.6 L689.8,846.2 L690.3,845.8 L690.8,846.2 L691.3,842.8 L691.8,840.4 L692.3,839.3 L692.8,838.7 L693.3,834.6 L693.8,836.6 L694.3,834.1 L694.8,834.2 L695.3,834.9 L695.8,834.9 L696.3,834.4 L696.8,833.6 L697.3,834.2 L697.8,832.2 L698.3,830.5 L698.8,827.6 L699.3,828.1 L699.8,824.6 L700.3,819.0 L700.8,815.1 L701.3,812.9 L701.8,809.8 L702.3,804.5 L702.8,802.8 L703.3,796.0 L703.8,792.9 L704.3,789.7 L704.8,783.6 L705.3,780.3 L705.8,775.7 L706.3,771.0 L706.8,765.0 L707.3,763.7 L707.8,761.3 L708.3,758.7 L708.8,758.0 L709.3,758.2 L709.8,757.9 L710.3,761.0 L710.8,767.3 L711.3,772.2 L711.8,777.4 L712.3,781.8 L712.8,787.9 L713.3,792.7 L713.8,795.9 L714.3,800.4 L714.8,802.8 L715.3,806.2 L715.8,812.8 L716.3,812.3 L716.8,817.1 L717.3,816.9 L717.8,819.5 L718.3,823.5 L718.8,821.9 L719.3,823.5 L719.8,825.3 L720.3,828.0 L720.8,831.0 L721.3,833.9 L721.8,833.0 L722.3,836.4 L722.8,834.5 L723.3,839.3 L723.8,836.3 L724.3,836.7 L724.8,838.3 L725.3,840.0 L725.8,841.6 L726.3,841.6 L726.8,846.8 L727.3,847.7 L727.8,847.3 L728.3,846.3 L728.8,847.9 L729.3,848.5 L729.8,844.1 L730.3,844.7 L730.8,846.5 L731.3,845.9 L731.8,847.5 L732.3,848.7 L732.8,850.2 L733.3,850.6 L733.8,851.1 L734.3,851.3 L734.8,849.6 L735.3,847.5 L735.8,852.2 L736.3,853.7 L736.8,854.0 L737.3,852.2 L737.8,855.6 L738.3,851.2 L738.8,854.0 L739.3,852.6 L739.8,852.2 L740.3,853.0 L740.8,851.9 L741.3,851.2 L741.8,849.8 L742.3,852.2 L742.8,852.7 L743.3,854.7 L743.8,853.6 L744.3,853.3 L744.8,854.9 L745.3,854.7 L745.8,850.8 L746.3,850.0 L746.8,848.9 L747.3,847.9 L747.8,846.5 L748.3,846.1 L748.8,844.2 L749.3,844.8 L749.8,844.5 L750.3,841.3 L750.8,845.7 L751.3,844.1 L751.8,845.7 L752.3,843.8 L752.8,847.1 L753.3,847.8 L753.8,847.9 L754.3,848.1 L754.8,845.5 L755.3,847.2 L755.8,844.2 L756.3,845.5 L756.8,847.1 L757.3,845.2 L757.8,845.3 L758.3,841.9 L758.8,839.6 L759.3,841.0 L759.8,838.4 L760.3,836.9 L760.8,835.2 L761.3,836.4 L761.8,834.5 L762.3,836.5 L762.8,838.0 L763.3,837.6 L763.8,841.3 L764.3,840.4 L764.8,841.2 L765.3,838.0 L765.8,839.2 L766.3,840.9 L766.8,842.6 L767.3,843.8 L767.8,843.1 L768.3,842.8 L768.8,843.4 L769.3,841.2 L769.8,840.6 L770.3,840.3 L770.8,838.2 L771.3,838.8 L771.8,835.5 L772.3,834.9 L772.8,835.2 L773.3,831.2 L773.8,829.9 L774.3,826.5 L774.8,822.6 L775.3,821.4 L775.8,816.5 L776.3,810.7 L776.8,805.6 L777.3,800.8 L777.8,792.6 L778.3,789.9 L778.8,782.3 L779.3,774.8 L779.8,772.0 L780.3,772.5 L780.8,770.3 L781.3,773.7 L781.8,773.4 L782.3,777.9 L782.8,784.0 L783.3,788.9 L783.8,789.9 L784.3,797.3 L784.8,799.5 L785.3,804.2 L785.8,806.6 L786.3,814.8 L786.8,817.5 L787.3,821.1 L787.8,827.5 L788.3,829.7 L788.8,831.6 L789.3,831.1 L789.8,834.7 L790.3,832.8 L790.8,836.2 L791.3,839.3 L791.8,840.1 L792.3,840.5 L792.8,843.5 L793.3,844.6 L793.8,844.4 L794.3,846.4 L794.8,849.5 L795.3,848.0 L795.8,847.6 L796.3,847.0 L796.8,844.3 L797.3,844.6 L797.8,844.3 L798.3,847.5 L798.8,847.8 L799.3,848.2 L799.8,849.1 L800.3,851.5 L800.8,851.3 L801.3,850.2 L801.8,849.1 L802.3,848.9 L802.8,847.5 L803.3,848.5 L803.8,848.0 L804.3,847.1 L804.8,847.2 L805.3,848.6 L805.8,850.6 L806.3,847.9 L806.8,848.3 L807.3,851.2 L807.8,851.4 L808.3,849.6 L808.8,849.9 L809.3,850.1 L809.8,851.4 L810.3,855.1 L810.8,851.6 L811.3,854.3 L811.8,853.2 L812.3,853.8 L812.8,854.5 L813.3,855.1 L813.8,853.6 L814.3,853.4 L814.8,855.7 L815.3,854.6 L815.8,854.0 L816.3,853.6 L816.8,851.0 L817.3,852.5 L817.8,848.9 L818.3,849.3 L818.8,850.1 L819.3,850.1 L819.8,852.3 L820.3,849.2 L820.8,850.3 L821.3,851.7 L821.8,848.3 L822.3,846.9 L822.8,848.9 L823.3,849.9 L823.8,848.1 L824.3,849.7 L824.8,850.5 L825.3,853.3 L825.8,850.9 L826.3,849.4 L826.8,848.7 L827.3,848.6 L827.8,846.3 L828.3,847.2 L828.8,844.2 L829.3,847.0 L829.8,849.3 L830.3,846.2 L830.8,847.4 L831.3,846.9 L831.8,846.6 L832.3,849.5 L832.8,849.1 L833.3,851.6 L833.8,852.8 L834.3,853.3 L834.8,851.6 L835.3,852.7 L835.8,853.2 L836.3,849.9 L836.8,848.2 L837.3,849.3 L837.8,849.2 L838.3,848.1 L838.8,844.7 L839.3,845.3 L839.8,848.2 L840.3,846.2 L840.8,845.3 L841.3,843.0 L841.8,843.6 L842.3,843.4 L842.8,842.4 L843.3,839.5 L843.8,838.3 L844.3,842.3 L844.8,840.3 L845.3,839.9 L845.8,841.4 L846.3,842.3 L846.8,843.2 L847.3,842.3 L847.8,841.5 L848.3,841.9 L848.8,838.9 L849.3,838.9 L849.8,841.2 L850.3,838.0 L850.8,835.6 L851.3,834.0 L851.8,833.1 L852.3,834.8 L852.8,834.6 L853.3,837.0 L853.8,834.1 L854.3,835.1 L854.8,833.1 L855.3,830.8 L855.8,832.8 L856.3,830.8 L856.8,830.1 L857.3,829.2 L857.8,832.1 L858.3,833.0 L858.8,832.2 L859.3,831.5 L859.8,835.5 L860.3,830.4 L860.8,833.5 L861.3,832.2 L861.8,833.4 L862.3,835.5 L862.8,833.0 L863.3,834.2 L863.8,834.5 L864.3,835.0 L864.8,833.5 L865.3,832.3 L865.8,830.7 L866.3,834.6 L866.8,833.6 L867.3,835.7 L867.8,834.4 L868.3,838.1 L868.8,840.7 L869.3,841.2 L869.8,843.5 L870.3,845.4 L870.8,847.3 L871.3,845.9 L871.8,845.3 L872.3,844.7 L872.8,848.2 L873.3,847.1 L873.8,850.7 L874.3,848.4 L874.8,853.2 L875.3,852.5 L875.8,850.7 L876.3,853.1 L876.8,853.4 L877.3,853.2 L877.8,852.3 L878.3,853.1 L878.8,852.9 L879.3,852.6 L879.8,853.9 L880.3,852.3 L880.8,855.2 L881.3,852.9 L881.8,854.8 L882.3,853.1 L882.8,855.0 L883.3,853.7 L883.8,852.3 L884.3,854.4 L884.8,854.3 L885.3,855.9 L885.8,855.2 L886.3,855.2 L886.8,855.6 L887.3,854.4 L887.8,856.7 L888.3,856.5 L888.8,854.6 L889.3,857.0 L889.8,856.7 L890.3,854.5 L890.8,854.1 L891.3,853.8 L891.8,852.1 L892.3,854.9 L892.8,851.8 L893.3,851.5 L893.8,854.5 L894.3,851.3 L894.8,852.8 L895.3,850.5 L895.8,852.8 L896.3,852.6 L896.8,849.9 L897.3,850.4 L897.8,849.5 L898.3,848.1 L898.8,849.1 L899.3,848.7 L899.8,848.6 L900.3,848.8 L900.8,851.1 L901.3,852.0 L901.8,852.4 L902.3,852.1 L902.8,851.7 L903.3,849.7 L903.8,852.0 L904.3,848.3 L904.8,849.8 L905.3,847.8 L905.8,847.8 L906.3,851.9 L906.8,850.5 L907.3,848.3 L907.8,850.3 L908.3,848.7 L908.8,851.1 L909.3,846.2 L909.8,845.9 L910.3,845.9 L910.8,846.7 L911.3,848.9 L911.8,849.9 L912.3,850.5 L912.8,849.2 L913.3,848.5 L913.8,849.5 L914.3,848.1 L914.8,850.9 L915.3,847.5 L915.8,850.8 L916.3,849.6 L916.8,850.7 L917.3,850.7 L917.8,851.3 L918.3,853.8 L918.8,852.3 L919.3,851.8 L919.8,850.7 L920.3,849.7 L920.8,849.7 L921.3,851.2 L921.8,849.9 L922.3,849.3 L922.8,849.1 L923.3,850.7 L923.8,849.1 L924.3,850.9 L924.8,849.2 L925.3,849.6 L925.8,852.1 L926.3,850.6 L926.8,849.3 L927.3,848.0 L927.8,849.7 L928.3,851.2 L928.8,848.1 L929.3,848.1 L929.8,848.4 L930.3,851.1 L930.8,849.9 L931.3,855.0 L931.8,852.5 L932.3,853.0 L932.8,853.4 L933.3,849.3 L933.8,849.4 L934.3,849.0 L934.8,849.5 L935.3,851.9 L935.8,848.2 L936.3,852.4 L936.8,850.2 L937.3,850.4 L937.8,848.4 L938.3,846.2 L938.8,846.9 L939.3,851.3 L939.8,850.3 L940.3,851.7 L940.8,852.2 L941.3,853.6 L941.8,853.3 L942.3,851.9 L942.8,851.3 L943.3,852.3 L943.8,849.6 L944.3,849.8 L944.8,848.7 L945.3,848.7 L945.8,847.2 L946.3,849.7 L946.8,848.0 L947.3,850.4 L947.8,847.5 L948.3,848.0 L948.8,848.5 L949.3,851.7 L949.8,851.9 L950.3,850.9 L950.8,851.9 L951.3,850.7 L951.8,850.2 L952.3,848.2 L952.8,849.7 L953.3,847.0 L953.8,846.5 L954.3,848.9 L954.8,847.3 L955.3,846.0 L955.8,846.6 L956.3,847.2 L956.8,846.4 L957.3,848.1 L957.8,847.0 L958.3,846.6 L958.8,848.3 L959.3,849.1 L959.8,848.6 L960.3,846.3 L960.8,847.3 L961.3,846.0 L961.8,848.1 L962.3,845.6 L962.8,845.3 L963.3,846.6 L963.8,845.0 L964.3,842.8 L964.8,841.1 L965.3,841.7 L965.8,839.6 L966.3,842.5 L966.8,838.5 L967.3,837.7 L967.8,835.8 L968.3,834.3 L968.8,835.0 L969.3,833.7 L969.8,831.8 L970.3,830.8 L970.8,830.2 L971.3,826.9 L971.8,826.3 L972.3,824.0 L972.8,821.9 L973.3,822.5 L973.8,819.6 L974.3,820.3 L974.8,821.1 L975.3,823.6 L975.8,823.6 L976.3,823.0 L976.8,825.9 L977.3,824.5 L977.8,823.7 L978.3,824.8 L978.8,827.0 L979.3,826.3 L979.8,826.4 L980.3,828.2 L980.8,832.3 L981.3,831.8 L981.8,834.5 L982.3,837.9 L982.8,837.3 L983.3,838.7 L983.8,841.0 L984.3,841.2 L984.8,844.0 L985.3,843.3 L985.8,844.8 L986.3,844.6 L986.8,842.7 L987.3,845.2 L987.8,846.5 L988.3,844.8 L988.8,844.3 L989.3,844.9 L989.8,847.2 L990.3,845.9 L990.8,846.4 L991.3,846.5 L991.8,849.2 L992.3,848.3 L992.8,850.3 L993.3,847.1 L993.8,845.1 L994.3,846.6 L994.8,845.7 L995.3,845.9 L995.8,845.4 L996.3,849.3 L996.8,850.0 L997.3,850.8 L997.8,852.6 L998.3,853.4 L998.8,852.1 L999.3,853.5 L999.8,851.8 L1000.3,852.1 L1000.8,853.9 L1001.3,853.1 L1001.8,854.4 L1002.3,854.1 L1002.8,854.9 L1003.3,855.1 L1003.8,855.8 L1004.3,853.0 L1004.8,853.9 L1005.3,855.2 L1005.8,855.7 L1006.3,855.4 L1006.8,853.8 L1007.3,851.8 L1007.8,851.0 L1008.3,853.4 L1008.8,853.2 L1009.3,854.3 L1009.8,854.7 L1010.3,851.9 L1010.8,854.9 L1011.3,852.9 L1011.8,853.6 L1012.3,854.5 L1012.8,852.8 L1013.3,859.5 L1013.8,856.6 L1014.3,857.7 L1014.8,854.8 L1015.3,853.1 L1015.8,853.2 L1016.3,852.1 L1016.8,850.0 L1017.3,848.6 L1017.8,852.2 L1018.3,850.0 L1018.8,850.9 L1019.3,852.4 L1019.8,850.3 L1020.3,851.3 L1020.8,852.9 L1021.3,852.7 L1021.8,853.6 L1022.3,852.7 L1022.8,851.9 L1023.3,853.4 L1023.8,852.2 L1024.3,853.8 L1024.8,852.4 L1025.3,850.9 L1025.8,852.5 L1026.3,853.6 L1026.8,855.6 L1027.3,851.8 L1027.8,854.0 L1028.3,855.7 L1028.8,857.1 L1029.3,851.9 L1029.8,852.6 L1030.3,853.7 L1030.8,854.7 L1031.3,852.1 L1031.8,849.7 L1032.3,853.9 L1032.8,855.5 L1033.3,856.0 L1033.8,856.8 L1034.3,858.1 L1034.8,857.6 L1035.3,859.3 L1035.8,858.7 L1036.3,857.5 L1036.8,857.2 L1037.3,857.4 L1037.8,857.5 L1038.3,854.1 L1038.8,854.8 L1039.3,851.5 L1039.8,848.1 L1040.3,846.5 L1040.8,844.0 L1041.3,845.8 L1041.8,844.9 L1042.3,842.8 L1042.8,843.4 L1043.3,841.4 L1043.8,845.8 L1044.3,846.8 L1044.8,848.2 L1045.3,848.1 L1045.8,853.6 L1046.3,854.4 L1046.8,853.0 L1047.3,852.5 L1047.8,851.9 L1048.3,851.4 L1048.8,848.0 L1049.3,846.0 L1049.8,844.5 L1050.3,841.6 L1050.8,841.1 L1051.3,838.7 L1051.8,842.0 L1052.3,841.0 L1052.8,841.8 L1053.3,842.9 L1053.8,844.4 L1054.3,845.5 L1054.8,848.8 L1055.3,850.8 L1055.8,852.5 L1056.3,855.4 L1056.8,855.3 L1057.3,852.1 L1057.8,851.7 L1058.3,853.6 L1058.8,848.9 L1059.3,850.6 L1059.8,851.1 L1060.3,849.6 L1060.8,848.2 L1061.3,849.3 L1061.8,847.3 L1062.3,846.6 L1062.8,847.6 L1063.3,847.1 L1063.8,848.2 L1064.3,848.5 L1064.8,848.4 L1065.3,843.2 L1065.8,846.5 L1066.3,847.5 L1066.8,849.3 L1067.3,848.9 L1067.8,849.6 L1068.3,851.2 L1068.8,850.7 L1069.3,850.2 L1069.8,852.7 L1070.3,852.0 L1070.8,850.0 L1071.3,853.4 L1071.8,851.4 L1072.3,853.5 L1072.8,851.4 L1073.3,852.9 L1073.8,851.4 L1074.3,850.8 L1074.8,851.5 L1075.3,852.0 L1075.8,850.2 L1076.3,853.8 L1076.8,851.3 L1077.3,851.4 L1077.8,854.2 L1078.3,856.3 L1078.8,852.5 L1079.3,851.5 L1079.8,852.6 L1080.3,854.2 L1080.8,854.8 L1081.3,855.2 L1081.8,856.7 L1082.3,858.2 L1082.8,855.2 L1083.3,854.9 L1083.8,853.6 L1084.3,853.3 L1084.8,853.9 L1085.3,852.3 L1085.8,850.8 L1086.3,853.5 L1086.8,854.7 L1087.3,853.5 L1087.8,855.4 L1088.3,853.7 L1088.8,849.4 L1089.3,849.4 L1089.8,847.8 L1090.3,848.5 L1090.8,848.3 L1091.3,850.4 L1091.8,851.9 L1092.3,850.0 L1092.8,855.1 L1093.3,854.5 L1093.8,856.6 L1094.3,855.0 L1094.8,852.5 L1095.3,854.8 L1095.8,854.8 L1096.3,854.3 L1096.8,853.3 L1097.3,851.5 L1097.8,851.1 L1098.3,851.1 L1098.8,851.6 L1099.3,853.5 L1099.8,853.4 L1100.3,853.6 L1100.8,853.2 L1101.3,852.7 L1101.8,853.1 L1102.3,851.6 L1102.8,850.1 L1103.3,852.3 L1103.8,850.3 L1104.3,849.1 L1104.8,850.1 L1105.3,849.1 L1105.8,848.6 L1106.3,849.0 L1106.8,847.1 L1107.3,847.6 L1107.8,847.5 L1108.3,845.1 L1108.8,844.8 L1109.3,848.7 L1109.8,855.0 L1110.3,852.1 L1110.8,851.6 L1111.3,852.2 L1111.8,852.0 L1112.3,849.5 L1112.8,847.8 L1113.3,846.5 L1113.8,846.1 L1114.3,846.2 L1114.8,843.3 L1115.3,845.5 L1115.8,846.3 L1116.3,847.5 L1116.8,845.7 L1117.3,839.7 L1117.8,839.2 L1118.3,841.3 L1118.8,837.2 L1119.3,838.1 L1119.8,837.1 L1120.3,837.5 L1120.8,834.9 L1121.3,835.0 L1121.8,830.9 L1122.3,831.1 L1122.8,828.0 L1123.3,825.9 L1123.8,825.6 L1124.3,827.6 L1124.8,825.8 L1125.3,828.6 L1125.8,829.2 L1126.3,834.1 L1126.8,835.8 L1127.3,835.3 L1127.8,837.3 L1128.3,837.0 L1128.8,838.9 L1129.3,840.8 L1129.8,840.1 L1130.3,841.9 L1130.8,840.6 L1131.3,845.6 L1131.8,841.9 L1132.3,843.5 L1132.8,842.2 L1133.3,843.4 L1133.8,841.3 L1134.3,841.0 L1134.8,839.9 L1135.3,843.6 L1135.8,840.8 L1136.3,846.8 L1136.8,848.1 L1137.3,850.0 L1137.8,847.7 L1138.3,849.2 L1138.8,851.5 L1139.3,853.1 L1139.8,850.7 L1140.3,854.3 L1140.8,851.8 L1141.3,854.2 L1141.8,853.2 L1142.3,853.3 L1142.8,853.0 L1143.3,853.5 L1143.8,849.5 L1144.3,852.6 L1144.8,851.1 L1145.3,851.9 L1145.8,851.1 L1146.3,853.0 L1146.8,852.4 L1147.3,851.1 L1147.8,849.7 L1148.3,852.6 L1148.8,848.8 L1149.3,848.6 L1149.8,847.1 L1150.3,849.0 L1150.8,850.0 L1151.3,850.7 L1151.8,852.4 L1152.3,853.1 L1152.8,848.7 L1153.3,850.4 L1153.8,849.4 L1154.3,851.2 L1154.8,850.1 L1155.3,848.4 L1155.8,852.2 L1156.3,850.1 L1156.8,851.7 L1157.3,848.0 L1157.8,848.8 L1158.3,848.2 L1158.8,844.8 L1159.3,845.1 L1159.8,845.0 L1160.3,845.1 L1160.8,846.6 L1161.3,844.4 L1161.8,848.4 L1162.3,848.3 L1162.8,846.6 L1163.3,849.0 L1163.8,845.7 L1164.3,846.9 L1164.8,850.6 L1165.3,850.7 L1165.8,849.0 L1166.3,850.7 L1166.8,848.4 L1167.3,849.9 L1167.8,851.0 L1168.3,851.2 L1168.8,850.4 L1169.3,849.0 L1169.8,850.2 L1170.3,851.0 L1170.8,851.1 L1171.3,849.4 L1171.8,849.6 L1172.3,850.0 L1172.8,848.6 L1173.3,850.2 L1173.8,853.5 L1174.3,850.9 L1174.8,852.8 L1175.3,850.5 L1175.8,855.7 L1176.3,850.4 L1176.8,852.4 L1177.3,852.3 L1177.8,849.7 L1178.3,851.4 L1178.8,853.3 L1179.3,851.3 L1179.8,853.2 L1180.3,851.3 L1180.8,853.8 L1181.3,856.4 L1181.8,852.7 L1182.3,854.2 L1182.8,852.7 L1183.3,852.2 L1183.8,853.3 L1184.3,853.4 L1184.8,853.5 L1185.3,852.5 L1185.8,848.0 L1186.3,850.0 L1186.8,847.8 L1187.3,849.7 L1187.8,848.9 L1188.3,847.8 L1188.8,847.1 L1189.3,849.0 L1189.8,850.7 L1190.3,851.5 L1190.8,851.1 L1191.3,852.5 L1191.8,856.2 L1192.3,856.1 L1192.8,855.1 L1193.3,853.7 L1193.8,854.4 L1194.3,854.4 L1194.8,852.5 L1195.3,851.4 L1195.8,850.8 L1196.3,851.1 L1196.8,851.4 L1197.3,848.4 L1197.8,851.9 L1198.3,848.8 L1198.8,850.6 L1199.3,850.0 L1199.8,851.7 L1200.3,852.0 L1200.8,852.6 L1201.3,852.2 L1201.8,853.0 L1202.3,850.7 L1202.8,852.1 L1203.3,847.7 L1203.8,850.1 L1204.3,849.7 L1204.8,847.7 L1205.3,847.7 L1205.8,847.2 L1206.3,849.0 L1206.8,847.4 L1207.3,848.4 L1207.8,848.3 L1208.3,848.8 L1208.8,847.6 L1209.3,845.4 L1209.8,847.6 L1210.3,848.2 L1210.8,846.9 L1211.3,845.9 L1211.8,846.4 L1212.3,848.5 L1212.8,844.7 L1213.3,846.7 L1213.8,845.4 L1214.3,846.6 L1214.8,843.7 L1215.3,846.5 L1215.8,845.0 L1216.3,847.2 L1216.8,849.0 L1217.3,847.0 L1217.8,850.3 L1218.3,848.4 L1218.8,849.8 L1219.3,852.1 L1219.8,850.4 L1220.3,849.3 L1220.8,844.2 L1221.3,844.9 L1221.8,846.2 L1222.3,844.5 L1222.8,844.5 L1223.3,846.6 L1223.8,843.9 L1224.3,843.9 L1224.8,844.4 L1225.3,843.8 L1225.8,837.1 L1226.3,834.6 L1226.8,832.9 L1227.3,830.3 L1227.8,828.5 L1228.3,828.2 L1228.8,825.0 L1229.3,826.1 L1229.8,830.0 L1230.3,823.0 L1230.8,826.2 L1231.3,826.6 L1231.8,825.4 L1232.3,828.5 L1232.8,828.0 L1233.3,828.6 L1233.8,831.5 L1234.3,832.8 L1234.8,836.5 L1235.3,833.5 L1235.8,833.8 L1236.3,835.2 L1236.8,835.1 L1237.3,838.7 L1237.8,835.4 L1238.3,835.1 L1238.8,834.6 L1239.3,834.1 L1239.8,832.3 L1240.3,834.8 L1240.8,833.9 L1241.3,834.8 L1241.8,837.5 L1242.3,838.3 L1242.8,839.1 L1243.3,837.9 L1243.8,840.1 L1244.3,840.8 L1244.8,842.1 L1245.3,842.4 L1245.8,841.9 L1246.3,845.4 L1246.8,844.5 L1247.3,847.2 L1247.8,845.7 L1248.3,845.8 L1248.8,847.8 L1249.3,846.1 L1249.8,844.3 L1250.3,845.2 L1250.8,843.8 L1251.3,849.5 L1251.8,841.2 L1252.3,840.4 L1252.8,845.9 L1253.3,846.2 L1253.8,847.5 L1254.3,848.5 L1254.8,850.6 L1255.3,851.0 L1255.8,853.2 L1256.3,851.5 L1256.8,853.2 L1257.3,855.5 L1257.8,856.5 L1258.3,856.3 L1258.8,855.9 L1259.3,855.6 L1259.8,855.3 L1260.3,856.5 L1260.8,853.0 L1261.3,852.1 L1261.8,851.8 L1262.3,851.6 L1262.8,852.1 L1263.3,852.6 L1263.8,853.3 L1264.3,852.8 L1264.8,855.0 L1265.3,854.2 L1265.8,854.0 L1266.3,852.0 L1266.8,851.4 L1267.3,850.7 L1267.8,850.0 L1268.3,851.5 L1268.8,849.8 L1269.3,848.4 L1269.8,850.3 L1270.3,848.3 L1270.8,847.4 L1271.3,843.6 L1271.8,846.7 L1272.3,845.5 L1272.8,846.6 L1273.3,847.1 L1273.8,849.3 L1274.3,850.3 L1274.8,851.4 L1275.3,853.1 L1275.8,853.4 L1276.3,853.4 L1276.8,855.8 L1277.3,855.6 L1277.8,852.2 L1278.3,853.9 L1278.8,854.2 L1279.3,851.0 L1279.8,850.3 L1280.3,848.0 L1280.8,851.8 L1281.3,848.7 L1281.8,848.2 L1282.3,849.4 L1282.8,851.9 L1283.3,851.5 L1283.8,853.1 L1284.3,852.9 L1284.8,856.3 L1285.3,850.5 L1285.8,850.9 L1286.3,850.1 L1286.8,851.3 L1287.3,848.8 L1287.8,850.8 L1288.3,847.7 L1288.8,851.2 L1289.3,849.6 L1289.8,850.5 L1290.3,850.5 L1290.8,850.7 L1291.3,851.1 L1291.8,848.1 L1292.3,850.4 L1292.8,851.0 L1293.3,853.0 L1293.8,850.6 L1294.3,848.4 L1294.8,853.4 L1295.3,849.5 L1295.8,851.3 L1296.3,850.1 L1296.8,846.6 L1297.3,852.0 L1297.8,849.9 L1298.3,851.0 L1298.8,848.2 L1299.3,848.9 L1299.8,851.3 L1300.3,851.1 L1300.8,849.8 L1301.3,848.8 L1301.8,849.9 L1302.3,848.9 L1302.8,851.2 L1303.3,852.0 L1303.8,849.6 L1304.3,850.6 L1304.8,854.7 L1305.3,851.2 L1305.8,852.2 L1306.3,847.9 L1306.8,845.4 L1307.3,842.3 L1307.8,842.1 L1308.3,841.0 L1308.8,839.1 L1309.3,837.4 L1309.8,839.5 L1310.3,842.8 L1310.8,843.5 L1311.3,847.8 L1311.8,850.0 L1312.3,851.6 L1312.8,852.1 L1313.3,851.7 L1313.8,852.0 L1314.3,851.4 L1314.8,847.7 L1315.3,846.8 L1315.8,846.1 L1316.3,846.5 L1316.8,843.5 L1317.3,841.5 L1317.8,843.6 L1318.3,840.9 L1318.8,840.7 L1319.3,841.7 L1319.8,840.2 L1320.3,843.5 L1320.8,844.1 L1321.3,843.9 L1321.8,847.0 L1322.3,846.4 L1322.8,845.9 L1323.3,845.1 L1323.8,845.1 L1324.3,843.3 L1324.8,844.7 L1325.3,840.3 L1325.8,842.5 L1326.3,840.4 L1326.8,838.1 L1327.3,836.7 L1327.8,833.8 L1328.3,829.8 L1328.8,827.4 L1329.3,826.0 L1329.8,826.2 L1330.3,826.2 L1330.8,826.3 L1331.3,827.5 L1331.8,828.9 L1332.3,829.5 L1332.8,829.0 L1333.3,830.6 L1333.8,830.9 L1334.3,834.5 L1334.8,833.5 L1335.3,830.2 L1335.8,830.3 L1336.3,831.8 L1336.8,829.9 L1337.3,830.5 L1337.8,829.0 L1338.3,829.1 L1338.8,830.0 L1339.3,828.4 L1339.8,828.8 L1340.3,830.4 L1340.8,833.9 L1341.3,835.0 L1341.8,835.3 L1342.3,841.2 L1342.8,844.0 L1343.3,847.6 L1343.8,848.7 L1344.3,849.9 L1344.8,848.1 L1345.3,851.8 L1345.8,848.7 L1346.3,850.2 L1346.8,854.1 L1347.3,853.4 L1347.8,854.0 L1348.3,852.7 L1348.8,853.8 L1349.3,851.8 L1349.8,852.7 L1350.3,852.2 L1350.8,850.6 L1351.3,848.9 L1351.8,847.0 L1352.3,850.3 L1352.8,851.1 L1353.3,851.4 L1353.8,852.9 L1354.3,850.8 L1354.8,855.3 L1355.3,852.0 L1355.8,856.1 L1356.3,854.0 L1356.8,852.9 L1357.3,851.0 L1357.8,852.6 L1358.3,853.2 L1358.8,853.2 L1359.3,854.5 L1359.8,858.5 L1360.3,859.1 L1360.8,861.6 L1361.3,860.9 L1361.8,858.1 L1362.3,857.6 L1362.8,855.7 L1363.3,852.5 L1363.8,853.9 L1364.3,851.5 L1364.8,854.9 L1365.3,855.9 L1365.8,852.2 L1366.3,855.3 L1366.8,853.7 L1367.3,857.5 L1367.8,855.5 L1368.3,855.1 L1368.8,854.7 L1369.3,852.7 L1369.8,854.5 L1370.3,856.3 L1370.8,854.2 L1371.3,855.7 L1371.8,854.3 L1372.3,856.7 L1372.8,854.9 L1373.3,850.8 L1373.8,849.1 L1374.3,849.1 L1374.8,849.3 L1375.3,850.3 L1375.8,850.7 L1376.3,854.8 L1376.8,855.8 L1377.3,853.8 L1377.8,849.8 L1378.3,848.7 L1378.8,850.9 L1379.3,849.2 L1379.8,850.0 L1380.3,850.9 L1380.8,850.3 L1381.3,852.6 L1381.8,849.1 L1382.3,849.9 L1382.8,847.2 L1383.3,848.4 L1383.8,845.2 L1384.3,846.6 L1384.8,848.3 L1385.3,846.1 L1385.8,847.7 L1386.3,847.0 L1386.8,848.4 L1387.3,847.7 L1387.8,848.3 L1388.3,845.6 L1388.8,846.0 L1389.3,846.6 L1389.8,844.3 L1390.3,846.0 L1390.8,847.6 L1391.3,848.1 L1391.8,845.4 L1392.3,850.6 L1392.8,846.8 L1393.3,848.5 L1393.8,849.1 L1394.3,850.8 L1394.8,849.2 L1395.3,848.7 L1395.8,851.1 L1396.3,852.4 L1396.8,849.1" fill="none" stroke="#000" stroke-width="4.9" stroke-linejoin="round" stroke-linecap="butt"/>
<text x="114.8" y="1134" font-size="56" text-anchor="middle">10</text>
<text x="328.5" y="1134" font-size="56" text-anchor="middle">20</text>
<text x="542.3" y="1134" font-size="56" text-anchor="middle">30</text>
<text x="756.0" y="1134" font-size="56" text-anchor="middle">40</text>
<text x="969.7" y="1134" font-size="56" text-anchor="middle">50</text>
<text x="1183.5" y="1134" font-size="56" text-anchor="middle">60</text>
<text x="1397.2" y="1134" font-size="56" text-anchor="middle">70</text>
<text x="756.5" y="1227.5" font-size="58.8" text-anchor="middle">2Theta (degree)</text>
<text transform="translate(69.8,553) rotate(-90)" font-size="58.8" text-anchor="middle">Intensity (a.u.)</text>
<text x="138.5" y="282.8" font-size="43.8">PEDOT-Bi<tspan font-size="30" dy="11.5">2</tspan><tspan dy="-11.5">Te</tspan><tspan font-size="30" dy="11.5">3</tspan></text>
<text x="226.5" y="725.3" font-size="43.8">Bi<tspan font-size="30" dy="11.5">2</tspan><tspan dy="-11.5">Te</tspan><tspan font-size="30" dy="11.5">3</tspan></text>
<text class="sym" x="1138" y="135.3" font-size="34.5">♥</text>
<text x="1169.5" y="135.2" font-size="44">:</text>
<text x="1197.5" y="135.2" font-size="44">Bi<tspan font-size="30" dy="13">2</tspan><tspan dy="-13">Te</tspan><tspan font-size="30" dy="13">3</tspan></text>
<text class="sym" transform="translate(1137,219) scale(1.14,1)" font-size="34">♣</text>
<text x="1169.5" y="219.5" font-size="44">:</text>
<text x="1197.5" y="219.5" font-size="44">PEDOT</text>
<text transform="translate(505.3,221) rotate(-90)" font-size="37">(015)</text>
<text transform="translate(721,374) rotate(-90)" font-size="37">(1010)</text>
<text transform="translate(791,354) rotate(-90)" font-size="37">(110)</text>
<text transform="translate(881,435.5) rotate(-90)" font-size="37">(0015)</text>
<text transform="translate(983.7,418) rotate(-90)" font-size="37">(205)</text>
<text transform="translate(1129.3,441.8) rotate(-90)" font-size="37">(0210)</text>
<text transform="translate(1245.3,427.5) rotate(-90)" font-size="37">(1115)</text>
<text transform="translate(1343.3,421.5) rotate(-90)" font-size="37">(125)</text>
<text class="sym" x="274" y="815.5" font-size="40" text-anchor="middle">♥</text>
<text class="sym" x="493.3" y="540" font-size="40" text-anchor="middle">♥</text>
<text class="sym" x="705.5" y="754" font-size="40" text-anchor="middle">♥</text>
<text class="sym" x="780.3" y="756.6" font-size="40" text-anchor="middle">♥</text>
<text class="sym" x="859.3" y="810" font-size="40" text-anchor="middle">♥</text>
<text class="sym" x="975.4" y="805.8" font-size="40" text-anchor="middle">♥</text>
<text class="sym" x="1125.4" y="814" font-size="40" text-anchor="middle">♥</text>
<text class="sym" x="1233.8" y="817" font-size="40" text-anchor="middle">♥</text>
<text class="sym" x="1334.5" y="812" font-size="40" text-anchor="middle">♥</text>
<text class="sym" transform="translate(348.7,402.5) scale(1.1,1)" font-size="40.5" text-anchor="middle">♣</text>
</svg></body></html>
